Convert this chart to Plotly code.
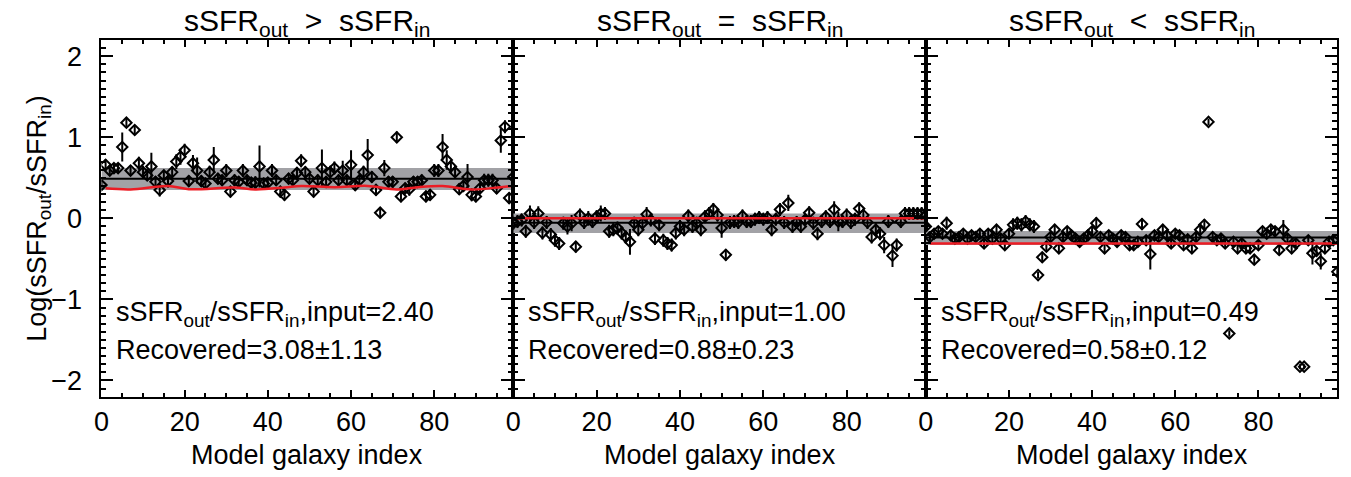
import math
import plotly.graph_objects as go

FONT = "Liberation Sans, Arial, sans-serif"
FS = 27
FS_TITLE = 30

galaxy_index = list(range(100))

# Panel 1: sSFR_out > sSFR_in  (log ratio per model galaxy)
p1_log_ratio = [
    0.41, 0.66, 0.59, 0.62, 0.62, 0.88, 1.18, 0.59, 1.09, 0.68,
    0.57, 0.53, 0.64, 0.45, 0.35, 0.53, 0.46, 0.57, 0.70, 0.76,
    0.84, 0.46, 0.68, 0.59, 0.46, 0.43, 0.57, 0.72, 0.49, 0.47,
    0.59, 0.33, 0.47, 0.45, 0.59, 0.47, 0.44, 0.44, 0.64, 0.43,
    0.44, 0.59, 0.47, 0.33, 0.29, 0.49, 0.47, 0.56, 0.71, 0.57,
    0.49, 0.33, 0.47, 0.62, 0.45, 0.57, 0.62, 0.47, 0.59, 0.47,
    0.66, 0.41, 0.47, 0.57, 0.78, 0.51, 0.35, 0.07, 0.62, 0.45,
    0.45, 1.00, 0.27, 0.37, 0.36, 0.45, 0.45, 0.47, 0.27, 0.29,
    0.59, 0.59, 0.88, 0.72, 0.64, 0.57, 0.36, 0.40, 0.51, 0.29,
    0.27, 0.37, 0.47, 0.47, 0.47, 0.37, 0.96, 1.13, 0.25, 0.51,
]
p1_err = [
    0.06, 0.07, 0.06, 0.06, 0.06, 0.18, 0.06, 0.06, 0.06, 0.08,
    0.08, 0.07, 0.17, 0.07, 0.08, 0.07, 0.08, 0.07, 0.09, 0.10,
    0.08, 0.07, 0.10, 0.16, 0.07, 0.07, 0.08, 0.16, 0.07, 0.07,
    0.08, 0.07, 0.07, 0.07, 0.08, 0.07, 0.07, 0.08, 0.26, 0.07,
    0.07, 0.08, 0.07, 0.07, 0.07, 0.07, 0.08, 0.07, 0.08, 0.07,
    0.07, 0.07, 0.07, 0.23, 0.07, 0.08, 0.08, 0.07, 0.12, 0.07,
    0.18, 0.07, 0.07, 0.08, 0.20, 0.07, 0.07, 0.07, 0.10, 0.07,
    0.07, 0.07, 0.07, 0.07, 0.08, 0.07, 0.07, 0.07, 0.07, 0.07,
    0.08, 0.08, 0.16, 0.12, 0.08, 0.08, 0.07, 0.07, 0.16, 0.08,
    0.07, 0.07, 0.08, 0.08, 0.08, 0.07, 0.15, 0.08, 0.07, 0.08,
]

# Panel 2: sSFR_out = sSFR_in
p2_log_ratio = [
    -0.06, -0.04, -0.02, -0.16, 0.06, -0.05, 0.06, -0.18, -0.05, -0.20,
    -0.27, -0.31, -0.06, -0.10, -0.06, -0.35, 0.04, -0.05, 0.00, -0.04,
    0.02, 0.06, 0.06, -0.16, -0.14, -0.12, -0.18, -0.23, -0.29, -0.06,
    -0.14, -0.06, 0.05, -0.02, -0.25, -0.08, -0.27, -0.31, -0.33, -0.18,
    -0.10, -0.14, 0.03, -0.10, -0.06, -0.14, 0.02, 0.06, 0.11, 0.04,
    -0.12, -0.45, -0.05, -0.04, -0.05, 0.03, -0.04, -0.04, -0.01, 0.01,
    -0.01, 0.01, -0.14, -0.01, 0.11, -0.05, 0.19, -0.10, -0.05, -0.10,
    -0.02, 0.07, -0.06, -0.19, -0.04, 0.02, -0.04, 0.11, -0.04, -0.04,
    0.04, -0.05, -0.01, 0.12, 0.04, -0.05, -0.23, -0.14, -0.19, -0.33,
    -0.04, -0.46, -0.33, -0.04, 0.06, 0.06, 0.06, 0.06, 0.06, 0.04,
]
p2_err = [
    0.08, 0.08, 0.08, 0.08, 0.10, 0.08, 0.09, 0.08, 0.08, 0.08,
    0.08, 0.08, 0.08, 0.10, 0.10, 0.07, 0.08, 0.08, 0.09, 0.08,
    0.08, 0.10, 0.08, 0.08, 0.08, 0.08, 0.08, 0.08, 0.16, 0.08,
    0.08, 0.08, 0.09, 0.08, 0.08, 0.08, 0.08, 0.08, 0.08, 0.08,
    0.08, 0.08, 0.08, 0.08, 0.08, 0.08, 0.08, 0.08, 0.08, 0.08,
    0.12, 0.07, 0.08, 0.08, 0.08, 0.08, 0.08, 0.08, 0.08, 0.08,
    0.08, 0.08, 0.08, 0.08, 0.08, 0.08, 0.10, 0.08, 0.08, 0.08,
    0.08, 0.08, 0.08, 0.08, 0.08, 0.08, 0.08, 0.10, 0.12, 0.08,
    0.08, 0.08, 0.08, 0.08, 0.08, 0.08, 0.08, 0.08, 0.08, 0.10,
    0.08, 0.14, 0.08, 0.08, 0.08, 0.08, 0.08, 0.08, 0.08, 0.08,
]

# Panel 3: sSFR_out < sSFR_in
p3_log_ratio = [
    -0.10, -0.23, -0.19, -0.16, -0.19, -0.06, -0.21, -0.25, -0.23, -0.19,
    -0.25, -0.21, -0.23, -0.19, -0.31, -0.19, -0.25, -0.14, -0.25, -0.33,
    -0.19, -0.08, -0.06, -0.08, -0.04, -0.08, -0.10, -0.70, -0.48, -0.35,
    -0.23, -0.14, -0.37, -0.23, -0.16, -0.21, -0.25, -0.29, -0.25, -0.21,
    -0.16, -0.06, -0.23, -0.37, -0.21, -0.25, -0.29, -0.21, -0.23, -0.33,
    -0.33, -0.29, -0.07, -0.27, -0.44, -0.21, -0.23, -0.14, -0.21, -0.31,
    -0.19, -0.21, -0.33, -0.26, -0.37, -0.23, -0.14, -0.08, 1.19, -0.23,
    -0.27, -0.25, -0.31, -1.42, -0.29, -0.37, -0.31, -0.37, -0.37, -0.51,
    -0.33, -0.16, -0.19, -0.14, -0.16, -0.39, -0.14, -0.25, -0.37, -0.31,
    -1.83, -1.83, -0.27, -0.43, -0.40, -0.53, -0.37, -0.29, -0.27, -0.66,
]
p3_err = [
    0.06, 0.06, 0.06, 0.06, 0.06, 0.08, 0.07, 0.06, 0.06, 0.06,
    0.06, 0.06, 0.06, 0.06, 0.06, 0.06, 0.06, 0.06, 0.06, 0.06,
    0.06, 0.08, 0.08, 0.08, 0.08, 0.08, 0.08, 0.04, 0.06, 0.06,
    0.06, 0.06, 0.06, 0.06, 0.06, 0.06, 0.06, 0.06, 0.06, 0.06,
    0.06, 0.07, 0.06, 0.06, 0.06, 0.06, 0.06, 0.06, 0.06, 0.06,
    0.06, 0.06, 0.07, 0.06, 0.19, 0.06, 0.06, 0.06, 0.06, 0.06,
    0.06, 0.06, 0.06, 0.06, 0.06, 0.06, 0.07, 0.07, 0.04, 0.06,
    0.06, 0.06, 0.06, 0.04, 0.06, 0.06, 0.06, 0.06, 0.06, 0.06,
    0.06, 0.06, 0.06, 0.06, 0.06, 0.06, 0.12, 0.06, 0.06, 0.06,
    0.03, 0.03, 0.06, 0.14, 0.06, 0.10, 0.06, 0.06, 0.06, 0.06,
]

# Input ratio curve of panel 1 (read at selected galaxy indices)
p1_input_x = [1, 7, 16, 21, 32, 37, 44, 48, 56, 64, 71, 76, 82, 89, 96, 99]
p1_input_log = [0.37, 0.357, 0.398, 0.36, 0.38, 0.357, 0.38, 0.40,
                0.385, 0.40, 0.357, 0.385, 0.398, 0.357, 0.385, 0.40]

SP = "\u00a0\u00a0"
panel_titles = [
    f"sSFR<sub>out</sub>{SP}>{SP}sSFR<sub>in</sub>",
    f"sSFR<sub>out</sub>{SP}={SP}sSFR<sub>in</sub>",
    f"sSFR<sub>out</sub>{SP}&lt;{SP}sSFR<sub>in</sub>",
]
input_ratio = [2.40, 1.00, 0.49]
recovered = [3.08, 0.88, 0.58]
recovered_err = [1.13, 0.23, 0.12]
band_lo = [0.35, -0.18, -0.33]
band_hi = [0.62, 0.06, -0.155]

x_ticks = [0, 20, 40, 60, 80]
y_ticks = [-2, -1, 0, 1, 2]
x_range = [0, 99]
y_range = [-2.2, 2.2]

W, H = 1351, 477
x_edges = [94, 508.3, 923.3, 1337.3]
y_top, y_bot = 40, 396.7

values = [p1_log_ratio, p2_log_ratio, p3_log_ratio]
errors = [p1_err, p2_err, p3_err]

fig = go.Figure()
RED = "rgb(236,28,36)"
GRAY = "rgb(162,162,166)"

for k in range(3):
    xa = "x" if k == 0 else f"x{k+1}"
    ya = "y" if k == 0 else f"y{k+1}"
    # uncertainty band of recovered value
    fig.add_trace(go.Scatter(
        x=[x_range[0], x_range[1], x_range[1], x_range[0], x_range[0]],
        y=[band_lo[k], band_lo[k], band_hi[k], band_hi[k], band_lo[k]],
        fill="toself", fillcolor=GRAY, line=dict(width=0), mode="lines",
        xaxis=xa, yaxis=ya, showlegend=False, hoverinfo="skip"))
    # data points
    fig.add_trace(go.Scatter(
        x=galaxy_index, y=values[k], mode="markers",
        marker=dict(symbol="diamond-open", size=8, color="black",
                    line=dict(width=2, color="black")),
        error_y=dict(type="data", array=errors[k], visible=True,
                     color="black", thickness=2, width=0),
        xaxis=xa, yaxis=ya, showlegend=False))
    # recovered mean
    mlog = math.log10(recovered[k])
    fig.add_trace(go.Scatter(
        x=[x_range[0], x_range[1]], y=[mlog, mlog], mode="lines",
        line=dict(color="black", width=2), xaxis=xa, yaxis=ya,
        showlegend=False, hoverinfo="skip"))
    # input value
    if k == 0:
        rx, ry = p1_input_x, p1_input_log
        shape = "spline"
    else:
        ilog = math.log10(input_ratio[k])
        rx, ry = [1, x_range[1]], [ilog, ilog]
        shape = "linear"
    fig.add_trace(go.Scatter(
        x=rx, y=ry, mode="lines", line=dict(color=RED, width=2.5, shape=shape),
        xaxis=xa, yaxis=ya, showlegend=False, hoverinfo="skip"))

axis_common = dict(showgrid=False, zeroline=False, showline=True,
                   linecolor="black", linewidth=2, mirror="ticks",
                   ticks="inside", tickcolor="black", tickwidth=1.5,
                   tickfont=dict(family=FONT, size=FS, color="black"))

layout = dict(width=W, height=H, margin=dict(l=0, r=0, t=0, b=0),
              paper_bgcolor="white", plot_bgcolor="white",
              font=dict(family=FONT, size=FS, color="black"))

for k in range(3):
    xkey = "xaxis" if k == 0 else f"xaxis{k+1}"
    ykey = "yaxis" if k == 0 else f"yaxis{k+1}"
    ya = "y" if k == 0 else f"y{k+1}"
    xa = "x" if k == 0 else f"x{k+1}"
    layout[xkey] = dict(axis_common, domain=[x_edges[k] / W, x_edges[k+1] / W],
                        range=x_range, anchor=ya, tickvals=x_ticks, ticklen=7,
                        minor=dict(dtick=5, tick0=0, ticklen=3.5, ticks="inside",
                                   tickcolor="black", tickwidth=1.5),
                        ticklabelstandoff=0)
    layout[ykey] = dict(axis_common, domain=[1 - y_bot / H, 1 - y_top / H],
                        range=y_range, anchor=xa, tickvals=y_ticks, ticklen=12,
                        showticklabels=(k == 0),
                        minor=dict(dtick=0.1, tick0=0, ticklen=5, ticks="inside",
                                   tickcolor="black", tickwidth=1.5),
                        ticklabelstandoff=12)

fig.update_layout(**layout)

annotations = []
for k in range(3):
    xc = (x_edges[k] + x_edges[k+1]) / 2 / W
    annotations.append(dict(text=panel_titles[k], x=xc, y=1 - 22 / H,
                            xref="paper", yref="paper", showarrow=False,
                            xanchor="center", yanchor="middle",
                            font=dict(family=FONT, size=FS_TITLE)))
    annotations.append(dict(
        text=f"sSFR<sub>out</sub>/sSFR<sub>in</sub>,input={input_ratio[k]:.2f}",
        x=(x_edges[k] + 13) / W, y=1 - 314 / H, xref="paper", yref="paper",
        showarrow=False, xanchor="left", yanchor="middle",
        font=dict(family=FONT, size=FS)))
    annotations.append(dict(
        text=f"Recovered={recovered[k]:.2f}\u00b1{recovered_err[k]:.2f}",
        x=(x_edges[k] + 13) / W, y=1 - 350 / H, xref="paper", yref="paper",
        showarrow=False, xanchor="left", yanchor="middle",
        font=dict(family=FONT, size=FS)))
    annotations.append(dict(text="Model galaxy index", x=xc, y=1 - 455 / H,
                            xref="paper", yref="paper", showarrow=False,
                            xanchor="center", yanchor="middle",
                            font=dict(family=FONT, size=FS)))
annotations.append(dict(text="Log(sSFR<sub>out</sub>/sSFR<sub>in</sub>)",
                        x=31 / W, y=1 - 218 / H, xref="paper", yref="paper",
                        showarrow=False, xanchor="center", yanchor="middle",
                        textangle=-90, font=dict(family=FONT, size=FS)))
fig.update_layout(annotations=annotations)

fig.write_html("out.html", config={"displayModeBar": False},
               post_script="document.body.style.margin='0';")
